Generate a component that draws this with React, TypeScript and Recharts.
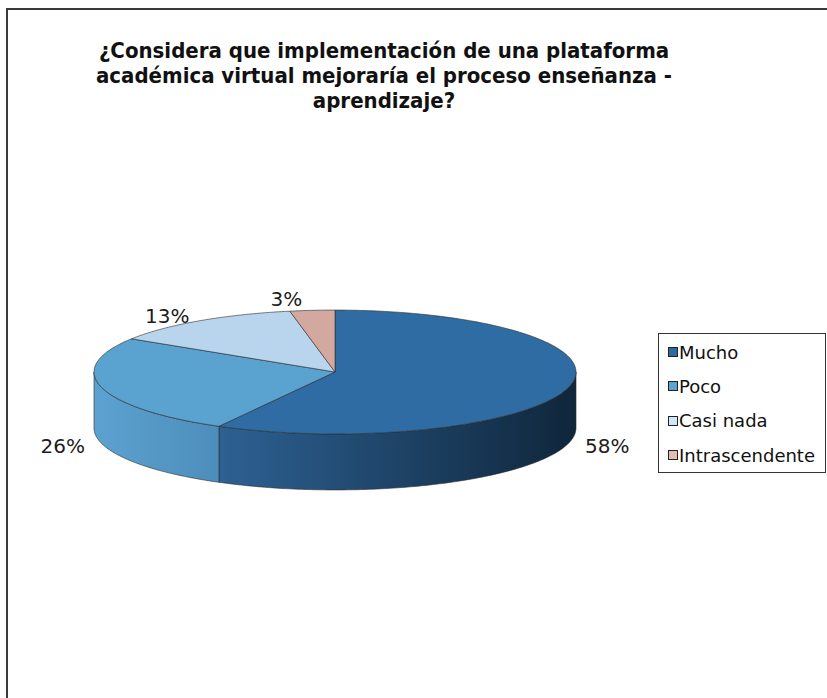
import React from "react";
import { PieChart, Pie, Cell, Legend } from "recharts";

const categories = ["Mucho", "Poco", "Casi nada", "Intrascendente"];
const shares = [58, 26, 13, 3];

const topColors = ["#2e6ca3", "#5aa2cf", "#b9d5ee", "#d3a89f"];
const wallColors = [
  ["#2d6193", "#0f263b"],
  ["#5ca2d0", "#4d8dbb"],
  ["#a9c7e2", "#8fb0cf"],
  ["#c99a90", "#b0847b"],
];
const legendColors = ["#2e6aa0", "#5ba3d3", "#cfe6fa", "#e2bdb3"];

const TILT = 0.257; // ry / rx of the top face
const DEPTH = 56; // height of the side wall
const RAD = Math.PI / 180;

const data = categories.map((name, i) => ({ name, value: shares[i] }));

function pt(cx: number, cy: number, r: number, deg: number, dy = 0) {
  return [cx + r * Math.cos(deg * RAD), cy - r * TILT * Math.sin(deg * RAD) + dy];
}

function arc(cx: number, cy: number, r: number, from: number, to: number, dy: number) {
  const n = Math.max(2, Math.ceil(Math.abs(to - from)));
  const out: number[][] = [];
  for (let i = 0; i <= n; i++) out.push(pt(cx, cy, r, from + ((to - from) * i) / n, dy));
  return out;
}

const toPath = (pts: number[][]) =>
  pts.map((p, i) => `${i ? "L" : "M"}${p[0].toFixed(2)},${p[1].toFixed(2)}`).join(" ");

function Slice3D(props: any) {
  const { cx, cy, outerRadius, startAngle, endAngle } = props;
  const name = props.payload?.name ?? props.name;
  const idx = Math.max(0, categories.indexOf(name));
  const lo = Math.min(startAngle, endAngle);
  const hi = Math.max(startAngle, endAngle);

  // front half of the rim (sin < 0) gets a visible wall
  const walls: number[][] = [];
  for (const k of [-720, -360, 0, 360]) {
    const a = Math.max(lo, -180 + k);
    const b = Math.min(hi, k);
    if (b > a) walls.push([a, b]);
  }

  const top = [[cx, cy], ...arc(cx, cy, outerRadius, startAngle, endAngle, 0)];

  return (
    <g>
      {walls.map(([a, b], j) => {
        const upper = arc(cx, cy, outerRadius, a, b, 0);
        const lower = arc(cx, cy, outerRadius, b, a, DEPTH);
        return (
          <path
            key={j}
            d={toPath([...upper, ...lower]) + " Z"}
            fill={`url(#wall${idx})`}
            stroke="#2b2b2b"
            strokeWidth={0.6}
            strokeLinejoin="round"
          />
        );
      })}
      <path
        d={toPath(top) + " Z"}
        fill={topColors[idx]}
        stroke="#2b2b2b"
        strokeWidth={0.6}
        strokeLinejoin="round"
      />
    </g>
  );
}

function SliceLabel(props: any) {
  const { cx, cy, outerRadius, midAngle, percent } = props;
  const c = Math.cos(midAngle * RAD);
  const s = Math.sin(midAngle * RAD);
  let x: number;
  let y: number;
  let anchor: "start" | "middle" | "end" = "middle";
  if (s < 0) {
    x = cx + (outerRadius + 40) * c;
    y = cy - (outerRadius * TILT + 10) * s + DEPTH;
  } else {
    const [ex, ey] = pt(cx, cy, outerRadius, midAngle);
    anchor = c < 0 ? "end" : "start";
    x = ex + (c < 0 ? -10 : 10);
    y = ey - 12 + (1 - s) * 40;
  }
  return (
    <text
      x={x}
      y={y}
      textAnchor={anchor}
      dominantBaseline="central"
      fontFamily="'DejaVu Sans', sans-serif"
      fontSize={20}
      fill="#1c1c1c"
    >
      {`${Math.round(percent * 100)}%`}
    </text>
  );
}

function LegendBox() {
  return (
    <div
      style={{
        border: "1px solid #333",
        background: "#fff",
        padding: "1px 0 0 9px",
        fontFamily: "'DejaVu Sans', sans-serif",
        fontSize: 18,
        color: "#111",
        boxSizing: "border-box",
        height: 140,
      }}
    >
      {categories.map((name, i) => (
        <div key={name} style={{ display: "flex", alignItems: "center", height: 34.3 }}>
          <span
            style={{
              display: "inline-block",
              width: 8,
              height: 8,
              border: "1px solid #222",
              background: legendColors[i],
              marginRight: 1,
            }}
          />
          <span>{name}</span>
        </div>
      ))}
    </div>
  );
}

export default function App() {
  return (
    <div
      style={{
        position: "absolute",
        left: 0,
        top: 0,
        width: 827,
        height: 698,
        overflow: "hidden",
        background: "#fff",
      }}
    >
      <div
        style={{
          position: "absolute",
          left: 6,
          top: 8,
          width: 900,
          height: 800,
          border: "2px solid #3a3a3a",
          boxSizing: "border-box",
        }}
      />
      <div
        style={{
          position: "absolute",
          left: 34,
          top: 38,
          width: 700,
          textAlign: "center",
          fontFamily: "'DejaVu Sans Condensed', 'Liberation Sans Narrow', sans-serif",
          fontWeight: "bold",
          fontSize: 22,
          lineHeight: "25px",
          color: "#111",
        }}
      >
        ¿Considera que implementación de una plataforma
        <br />
        académica virtual mejoraría el proceso enseñanza -
        <br />
        aprendizaje?
      </div>
      <div style={{ position: "absolute", left: 0, top: 0 }}>
        <PieChart width={827} height={698} margin={{ top: 0, right: 0, bottom: 0, left: 0 }}>
          <defs>
            {wallColors.map(([a, b], i) => (
              <linearGradient key={i} id={`wall${i}`} x1="0" y1="0" x2="1" y2="0">
                <stop offset="0%" stopColor={a} />
                <stop offset="100%" stopColor={b} />
              </linearGradient>
            ))}
          </defs>
          <Pie
            data={data}
            dataKey="value"
            nameKey="name"
            cx={335}
            cy={372}
            outerRadius={241}
            startAngle={90}
            endAngle={-270}
            shape={Slice3D}
            label={SliceLabel}
            labelLine={false}
            isAnimationActive={false}
          >
            {data.map((d, i) => (
              <Cell key={d.name} fill={topColors[i]} />
            ))}
          </Pie>
          <Legend
            layout="vertical"
            align="right"
            verticalAlign="top"
            content={LegendBox}
            wrapperStyle={{ left: 658, top: 333, width: 168, right: "auto", bottom: "auto" }}
          />
        </PieChart>
      </div>
    </div>
  );
}
